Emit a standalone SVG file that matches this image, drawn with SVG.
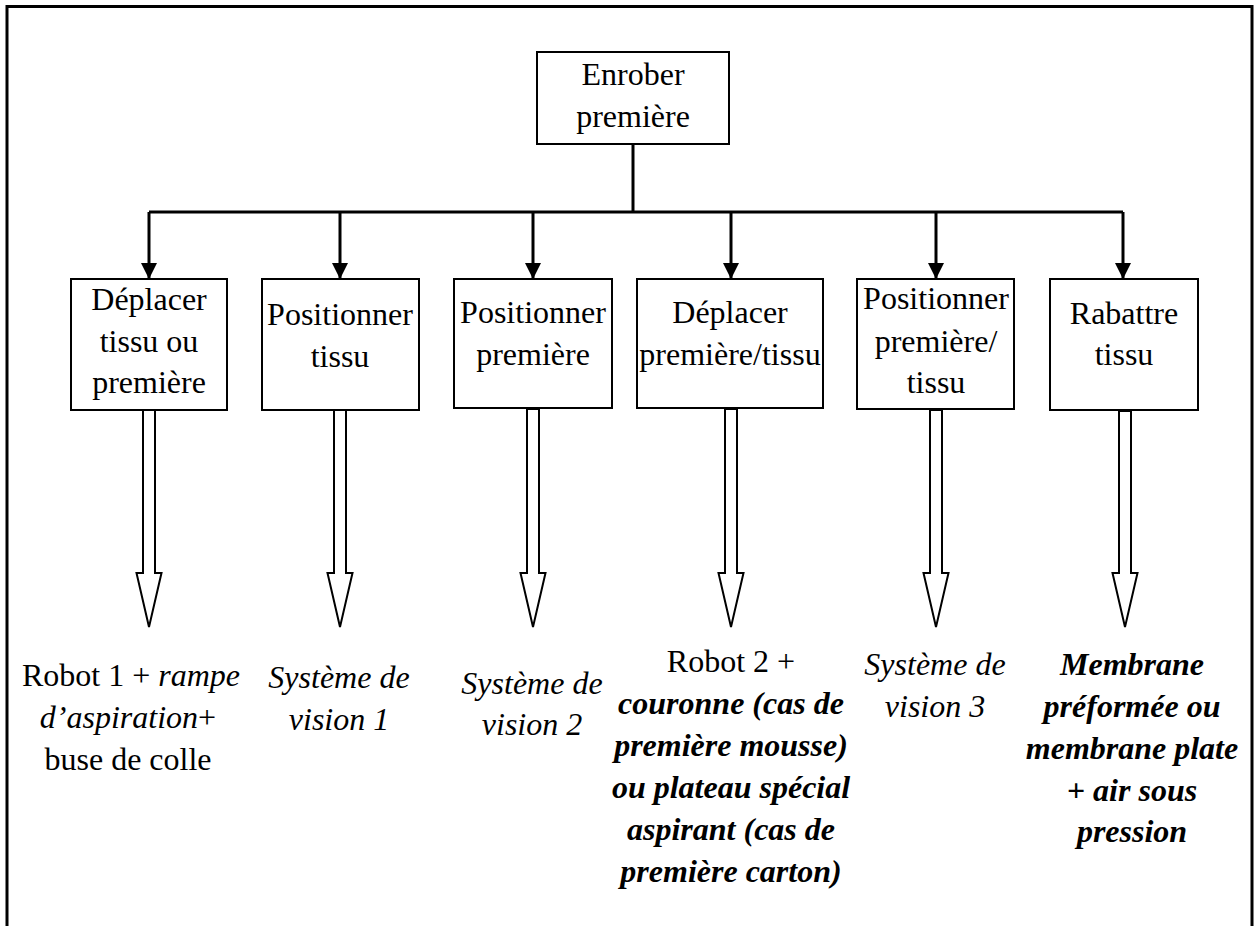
<svg xmlns="http://www.w3.org/2000/svg" width="1258" height="926" viewBox="0 0 1258 926" font-family="Liberation Serif, Times New Roman, serif">
<defs>
<style>
text{font-family:'Liberation Serif','Times New Roman',serif;font-size:32px;fill:#000;text-anchor:middle}
.box{fill:#fff;stroke:#000;stroke-width:2}
.line{fill:none;stroke:#000;stroke-width:3}
.hollow{fill:#fff;stroke:#000;stroke-width:2;stroke-linejoin:miter}
.i{font-style:italic}
.bi{font-style:italic;font-weight:bold}
</style>
<marker id="ah" markerUnits="userSpaceOnUse" markerWidth="18" markerHeight="16" refX="16" refY="8" orient="auto">
<path d="M0,0 L16,8 L0,16 Z" fill="#000"/>
</marker>
</defs>
<rect width="1258" height="926" fill="#fff"/>
<path d="M7,926 V6.5 H1252 V926" fill="none" stroke="#000" stroke-width="3"/>

<g id="connectors">
<path class="line" d="M633,144 V212"/>
<path class="line" d="M149,212 H1123"/>
<path class="line" d="M149,212 V279" marker-end="url(#ah)"/>
<path class="line" d="M340,212 V279" marker-end="url(#ah)"/>
<path class="line" d="M533,212 V279" marker-end="url(#ah)"/>
<path class="line" d="M731,212 V279" marker-end="url(#ah)"/>
<path class="line" d="M936,212 V279" marker-end="url(#ah)"/>
<path class="line" d="M1123,212 V279" marker-end="url(#ah)"/>
<polygon class="hollow" points="143,410 155,410 155,573 161.5,573 149,627 136.5,573 143,573"/>
<polygon class="hollow" points="334,410 346,410 346,573 352.5,573 340,627 327.5,573 334,573"/>
<polygon class="hollow" points="527,409 539,409 539,573 545.5,573 533,627 520.5,573 527,573"/>
<polygon class="hollow" points="725,409 737,409 737,573 743.5,573 731,627 718.5,573 725,573"/>
<polygon class="hollow" points="930,410 942,410 942,573 948.5,573 936,627 923.5,573 930,573"/>
<polygon class="hollow" points="1119,411 1131,411 1131,573 1137.5,573 1125,627 1112.5,573 1119,573"/>
</g>

<g id="n0">
<rect class="box" x="537" y="52" width="192" height="92"/>
<text x="633" y="85">Enrober</text>
<text x="633" y="127">première</text>
</g>
<g id="n1">
<rect class="box" x="71" y="279" width="156" height="131"/>
<text x="149" y="310">Déplacer</text>
<text x="149" y="352">tissu ou</text>
<text x="149" y="393">première</text>
</g>
<g id="n2">
<rect class="box" x="262" y="279" width="157" height="131"/>
<text x="340" y="325">Positionner</text>
<text x="340" y="367">tissu</text>
</g>
<g id="n3">
<rect class="box" x="454" y="279" width="158" height="129"/>
<text x="533" y="323">Positionner</text>
<text x="533" y="365">première</text>
</g>
<g id="n4">
<rect class="box" x="637" y="279" width="186" height="129"/>
<text x="730" y="323">Déplacer</text>
<text x="730" y="365">première/tissu</text>
</g>
<g id="n5">
<rect class="box" x="857" y="279" width="157" height="130"/>
<text x="936" y="309">Positionner</text>
<text x="936" y="352">première/</text>
<text x="936" y="393">tissu</text>
</g>
<g id="n6">
<rect class="box" x="1050" y="279" width="148" height="131"/>
<text x="1124" y="324">Rabattre</text>
<text x="1124" y="365">tissu</text>
</g>

<g id="r1">
<text x="131" y="686">Robot 1 + <tspan class="i">rampe</tspan></text>
<text x="128" y="728"><tspan class="i">d’aspiration</tspan>+</text>
<text x="128" y="770">buse de colle</text>
</g>
<g id="r2">
<text class="i" x="339" y="688">Système de</text>
<text class="i" x="339" y="730">vision 1</text>
</g>
<g id="r3">
<text class="i" x="532" y="694">Système de</text>
<text class="i" x="532" y="735">vision 2</text>
</g>
<g id="r4">
<text x="731" y="672">Robot 2 +</text>
<text class="bi" x="731" y="714">couronne (cas de</text>
<text class="bi" x="731" y="756">première mousse)</text>
<text class="bi" x="731" y="798">ou plateau spécial</text>
<text class="bi" x="731" y="840">aspirant (cas de</text>
<text class="bi" x="731" y="882">première carton)</text>
</g>
<g id="r5">
<text class="i" x="935" y="675">Système de</text>
<text class="i" x="935" y="717">vision 3</text>
</g>
<g id="r6">
<text class="bi" x="1132" y="675">Membrane</text>
<text class="bi" x="1132" y="717">préformée ou</text>
<text class="bi" x="1132" y="759">membrane plate</text>
<text class="bi" x="1132" y="801">+ air sous</text>
<text class="bi" x="1132" y="842">pression</text>
</g>
</svg>
